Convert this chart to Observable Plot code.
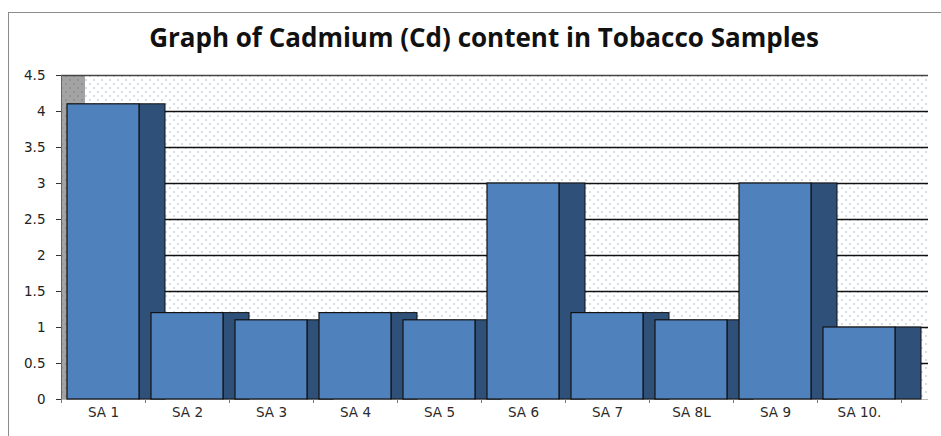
<!DOCTYPE html>
<html>
<head>
<meta charset="utf-8">
<script src="https://cdn.jsdelivr.net/npm/d3@7"></script>
<script src="https://cdn.jsdelivr.net/npm/@observablehq/plot@0.6"></script>
<style>
  html, body { margin: 0; padding: 0; background: #fff; }
  #wrap { position: relative; width: 941px; height: 436px; overflow: hidden; }
  #frame { position: absolute; left: 8px; top: 12px; width: 1000px; height: 600px;
           border-left: 1.5px solid #8c8c8c; border-top: 1.5px solid #8c8c8c; }
  #title { position: relative; box-sizing: border-box; height: 58px; padding-top: 24px;
           font-family: "Open Sans", sans-serif; font-weight: 700; font-size: 26px; line-height: 26px;
           text-align: center; color: #111; padding-left: 27px; white-space: nowrap; }
  #chart { position: relative; }
  #chart svg text { font-family: "DejaVu Sans", sans-serif !important; font-size: 13.5px !important; }
</style>
</head>
<body>
<div id="wrap">
  <div id="frame"></div>
  <div id="title">Graph of Cadmium (Cd) content in Tobacco Samples</div>
  <div id="chart"></div>
</div>
<script>
const names = ["SA 1", "SA 2", "SA 3", "SA 4", "SA 5", "SA 6", "SA 7", "SA 8L", "SA 9", "SA 10."];
const cadmium = [4.1, 1.2, 1.1, 1.2, 1.1, 3.0, 1.2, 1.1, 3.0, 1.0];
const yTicks = [0, 0.5, 1, 1.5, 2, 2.5, 3, 3.5, 4, 4.5];
const gridValues = [0.5, 1, 1.5, 2, 2.5, 3, 3.5, 4];

const data = names.map((name, i) => ({name, i, value: cadmium[i]}));
const n = names.length;
const yMax = yTicks[yTicks.length - 1];

const plot = Plot.plot({
  width: 941,
  height: 378,
  marginLeft: 61,
  marginRight: 40,
  marginTop: 17,
  marginBottom: 37,
  style: {fontFamily: "'DejaVu Sans', sans-serif", fontSize: "13px", color: "#222", background: "transparent", overflow: "visible"},
  x: {domain: [0, n], axis: null},
  y: {domain: [0, yMax], axis: null},
  marks: [
    // back wall with dotted texture
    Plot.rect([0], {x1: 0, x2: n, y1: 0, y2: yMax, insetRight: -27, fill: "url(#dots)"}),
    // left side wall
    Plot.rect([0], {x1: 0, x2: 0, y1: 0, y2: yMax, insetRight: -24, fill: "url(#wall)"}),
    // gridlines on the back wall
    Plot.ruleY(gridValues, {x1: 0, x2: n, insetLeft: 24, insetRight: -27, stroke: "#111", strokeWidth: 1.3}),
    Plot.ruleY([yMax], {x1: 0, x2: n, insetRight: -27, stroke: "#444", strokeWidth: 1.5}),
    // floor line
    Plot.ruleY([0], {x1: 0, x2: n, insetRight: -27, stroke: "#bbb", strokeWidth: 1}),
    // dark side faces
    Plot.rect(data, {x1: "i", x2: d => d.i + 1, y1: 0, y2: "value", insetLeft: 78, insetRight: -20,
      fill: "#2f5179", stroke: "#111", strokeWidth: 1}),
    // front faces
    Plot.rect(data, {x1: "i", x2: d => d.i + 1, y1: 0, y2: "value", insetLeft: 6, insetRight: 6,
      fill: "#4f81bd", stroke: "#111", strokeWidth: 1.2}),
    // y axis
    Plot.ruleX([0], {y1: 0, y2: yMax, stroke: "#666", strokeWidth: 1}),
    Plot.axisY({ticks: yTicks, tickSize: 5, tickPadding: 11, stroke: "#333",
      tickFormat: d => String(d), fill: "#222", label: null}),
    // x axis tick marks at category boundaries
    Plot.axisX({ticks: d3.range(0, n + 1), tickSize: 4, tickFormat: () => "", stroke: "#777", label: null}),
    // x axis category labels
    Plot.axisX({ticks: d3.range(0, n).map(i => i + 0.5), tickSize: 0, tickPadding: 8,
      tickFormat: d => names[Math.floor(d)], fill: "#2a2a2a", label: null})
  ]
});

const defs = `
<defs>
  <pattern id="dots" width="8" height="8" patternUnits="userSpaceOnUse">
    <rect width="8" height="8" fill="#ffffff"></rect>
    <circle cx="2" cy="2" r="0.9" fill="#c3cfde"></circle>
    <circle cx="6" cy="6" r="0.9" fill="#c3cfde"></circle>
  </pattern>
  <pattern id="wall" width="8" height="8" patternUnits="userSpaceOnUse">
    <rect width="8" height="8" fill="#a3a3a3"></rect>
    <circle cx="2" cy="2" r="0.9" fill="#8a8a8a"></circle>
    <circle cx="6" cy="6" r="0.9" fill="#8a8a8a"></circle>
  </pattern>
</defs>`;
plot.insertAdjacentHTML("afterbegin", defs);
document.getElementById("chart").appendChild(plot);
</script>
</body>
</html>
